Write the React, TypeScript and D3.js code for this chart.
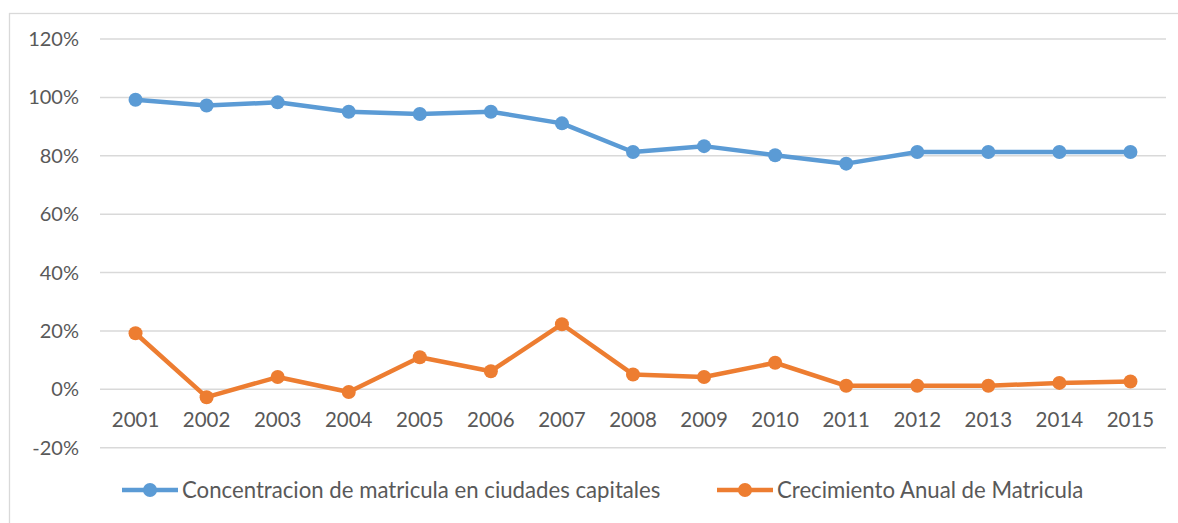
import React from 'react';
import * as d3 from 'd3';

const years = ['2001', '2002', '2003', '2004', '2005', '2006', '2007', '2008', '2009', '2010', '2011', '2012', '2013', '2014', '2015'];
const concentracion = [99.2, 97.2, 98.3, 95.1, 94.3, 95.1, 91.1, 81.3, 83.3, 80.2, 77.3, 81.3, 81.3, 81.3, 81.3];
const crecimiento = [19.2, -2.7, 4.2, -0.9, 11.0, 6.2, 22.3, 5.1, 4.2, 9.1, 1.2, 1.2, 1.2, 2.2, 2.7];
const yTicks = [-20, 0, 20, 40, 60, 80, 100, 120];
const seriesNames = ['Concentracion de matricula en ciudades capitales', 'Crecimiento Anual de Matricula'];

const W = 1178;
const H = 523;
const FONT = 'Lato, "Open Sans", sans-serif';
const TEXT = '#595959';
const BLUE = '#5B9BD5';
const ORANGE = '#ED7D31';

export default function App() {
  // plot area
  const left = 100;
  const right = 1166;
  const x = d3.scaleBand().domain(years).range([left, right]);
  const y = d3.scaleLinear().domain([-20, 120]).range([447.7, 39]);
  const cx = (d: string) => (x(d) ?? 0) + x.bandwidth() / 2;

  const line = d3.line<number>()
    .x((_, i) => cx(years[i]))
    .y(d => y(d));

  const series = [
    { name: seriesNames[0], values: concentracion, color: BLUE },
    { name: seriesNames[1], values: crecimiento, color: ORANGE },
  ];

  // legend layout
  const legendY = 490;
  const legendItems = [
    { x0: 122, color: BLUE, label: seriesNames[0] },
    { x0: 717, color: ORANGE, label: seriesNames[1] },
  ];

  return (
    <svg width={W} height={H} style={{ position: 'absolute', left: 0, top: 0, background: '#fff' }} fontFamily={FONT}>
      <rect x={9.5} y={13.5} width={W + 10} height={H + 10} fill="#fff" stroke="#d9d9d9" strokeWidth={1.3} />

      {/* gridlines + y labels */}
      {yTicks.map(t => (
        <g key={t}>
          <line x1={left} x2={right} y1={y(t)} y2={y(t)} stroke="#d9d9d9" strokeWidth={1.5} />
          <text x={79} y={y(t)} dy="0.35em" textAnchor="end" fontSize={20} fill={TEXT}>{t}%</text>
        </g>
      ))}

      {/* x labels */}
      {years.map(yr => (
        <text key={yr} x={cx(yr)} y={420} dy="0.35em" textAnchor="middle" fontSize={20.5} fill={TEXT}>{yr}</text>
      ))}

      {/* series */}
      {series.map(s => (
        <g key={s.name}>
          <path d={line(s.values) ?? ''} fill="none" stroke={s.color} strokeWidth={4.5} strokeLinejoin="round" />
          {s.values.map((v, i) => (
            <circle key={i} cx={cx(years[i])} cy={y(v)} r={7} fill={s.color} />
          ))}
        </g>
      ))}

      {/* legend */}
      {legendItems.map(l => (
        <g key={l.label}>
          <line x1={l.x0} x2={l.x0 + 56} y1={legendY} y2={legendY} stroke={l.color} strokeWidth={4.5} />
          <circle cx={l.x0 + 28} cy={legendY} r={7} fill={l.color} />
          <text x={l.x0 + 60} y={legendY} dy="0.35em" fontSize={22.2} fill={TEXT}>{l.label}</text>
        </g>
      ))}
    </svg>
  );
}
